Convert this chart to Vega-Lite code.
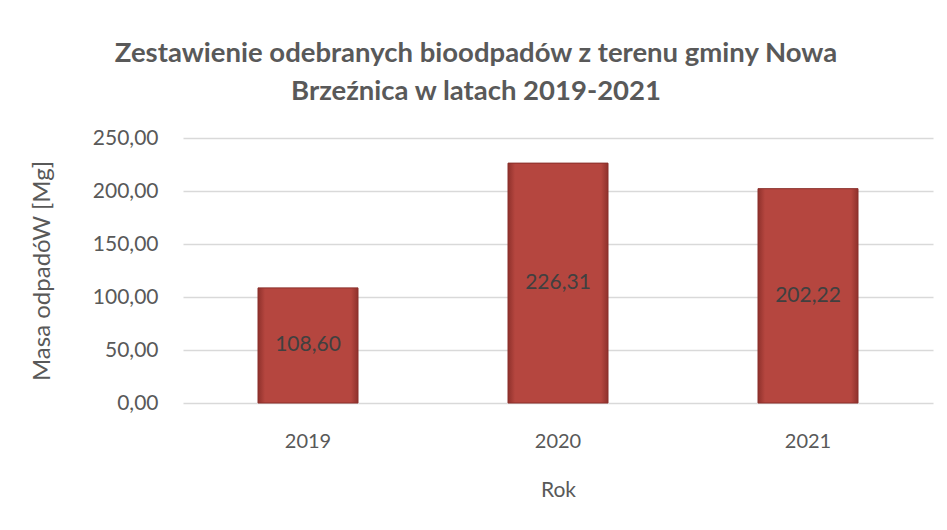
{
  "$schema": "https://vega.github.io/schema/vega-lite/v6.json",
  "width": 750,
  "height": 265,
  "autosize": {"type": "none"},
  "padding": {"left": 183, "top": 138, "right": 14, "bottom": 127},
  "background": "white",
  "config": {
    "locale": {"number": {"decimal": ",", "thousands": " ", "grouping": [3], "currency": ["", " zł"]}},
    "view": {"stroke": null},
    "font": "Lato"
  },
  "title": {
    "text": ["Zestawienie odebranych bioodpadów z terenu gminy Nowa", "Brzeźnica w latach 2019-2021"],
    "font": "Lato",
    "fontSize": 27.5,
    "fontWeight": "bold",
    "color": "#595959",
    "lineHeight": 38,
    "anchor": "middle",
    "frame": "group",
    "dx": -82,
    "offset": 22
  },
  "data": {
    "values": [
      {"Rok": "2019", "masa": 108.60},
      {"Rok": "2020", "masa": 226.31},
      {"Rok": "2021", "masa": 202.22}
    ]
  },
  "encoding": {
    "x": {
      "field": "Rok",
      "type": "nominal",
      "title": "Rok",
      "scale": {"paddingInner": 0.6, "paddingOuter": 0.3},
      "axis": {
        "labelAngle": 0,
        "labelFontSize": 20,
        "labelColor": "#595959",
        "labelPadding": 28,
        "titleFontSize": 21,
        "titleFontWeight": "normal",
        "titleColor": "#595959",
        "titlePadding": 28,
        "ticks": false,
        "domain": false
      }
    }
  },
  "layer": [
    {
      "mark": {
        "type": "bar",
        "stroke": "#8a2f2a",
        "strokeWidth": 1,
        "color": {
          "gradient": "linear",
          "x1": 0, "y1": 0, "x2": 1, "y2": 0,
          "stops": [
            {"offset": 0, "color": "#8f312c"},
            {"offset": 0.07, "color": "#b5463f"},
            {"offset": 0.93, "color": "#b5463f"},
            {"offset": 1, "color": "#8f312c"}
          ]
        }
      },
      "encoding": {
        "y": {
          "field": "masa",
          "type": "quantitative",
          "title": "Masa odpadóW [Mg]",
          "scale": {"domain": [0, 250], "nice": false},
          "axis": {
            "values": [0, 50, 100, 150, 200, 250],
            "format": ".2f",
            "labelFontSize": 21,
            "labelColor": "#595959",
            "labelPadding": 25,
            "ticks": false,
            "domain": false,
            "gridColor": "#d9d9d9",
            "gridWidth": 1.5,
            "titleFontSize": 24,
            "titleFontWeight": "normal",
            "titleColor": "#595959",
            "titlePadding": 38
          }
        }
      }
    },
    {
      "transform": [{"calculate": "datum.masa / 2", "as": "polowa"}],
      "mark": {"type": "text", "fontSize": 21, "color": "#404040", "baseline": "middle"},
      "encoding": {
        "y": {"field": "polowa", "type": "quantitative"},
        "text": {"field": "masa", "type": "quantitative", "format": ".2f"}
      }
    }
  ]
}
